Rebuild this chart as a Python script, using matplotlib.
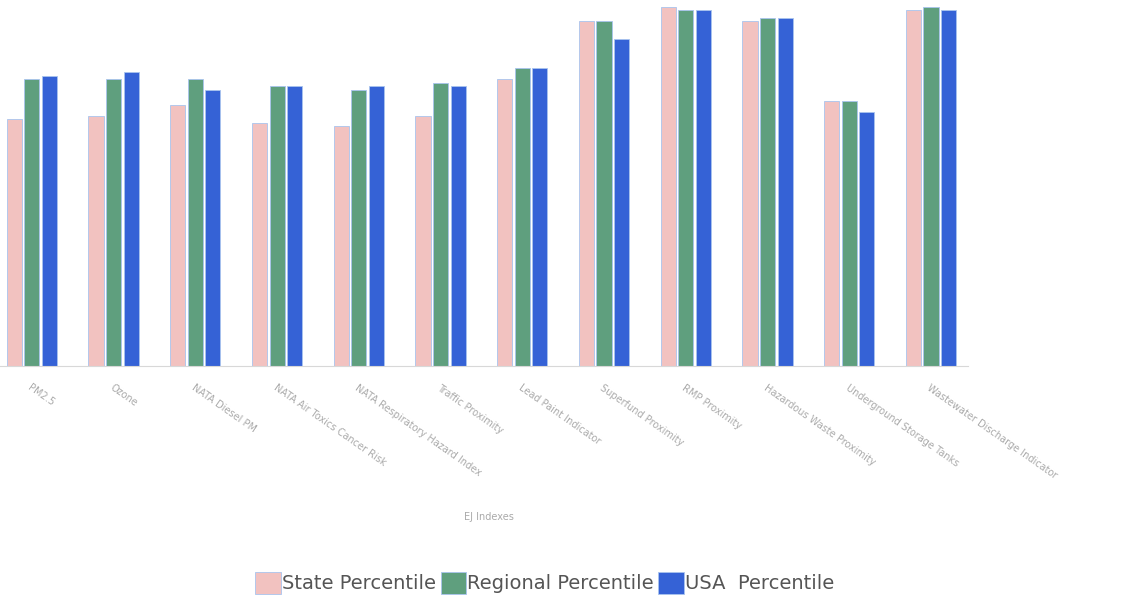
import numpy as np
import matplotlib
matplotlib.use('Agg')
import matplotlib.pyplot as plt

categories = ['PM2.5', 'Ozone', 'NATA Diesel PM', 'NATA Air Toxics Cancer Risk',
              'NATA Respiratory Hazard Index', 'Traffic Proximity',
              'Lead Paint Indicator', 'Superfund Proximity', 'RMP Proximity',
              'Hazardous Waste Proximity', 'Underground Storage Tanks',
              'Wastewater Discharge Indicator']

state_pct = [68, 69, 72, 67, 66, 69, 79, 95, 99, 95, 73, 98]
regional_pct = [79, 79, 79, 77, 76, 78, 82, 95, 98, 96, 73, 99]
usa_pct = [80, 81, 76, 77, 77, 77, 82, 90, 98, 96, 70, 98]

series = ['State Percentile', 'Regional Percentile', 'USA  Percentile']
colors = ['#f2c2c0', '#5f9f7e', '#3562d6']

fig = plt.figure(figsize=(11.37, 6.01), dpi=100)
ax = fig.add_axes([0.0, 0.391, 1.0, 0.604])

x = np.arange(len(categories))
w = 0.185
step = 0.215
for k, (vals, lab, col) in enumerate(zip([state_pct, regional_pct, usa_pct], series, colors)):
    ax.bar(x + (k - 1) * step, vals, width=w, color=col, label=lab,
           edgecolor='#a9c4ee', linewidth=0.6)

ax.set_xlim(-0.39, 13.52)
ax.set_ylim(0, 100)
ax.set_yticks([])
ax.set_xticks(x)
ax.set_xticklabels(categories, rotation=-35, ha='left', va='top',
                   rotation_mode='anchor', fontsize=7, color='#aaaaaa')
ax.tick_params(axis='x', length=0, pad=12)
for s in ['left', 'right', 'top']:
    ax.spines[s].set_visible(False)
ax.spines['bottom'].set_color('#d8d8d8')
ax.spines['bottom'].set_bounds(-0.45, 11.45)

fig.text(0.43, 0.135, 'EJ Indexes', fontsize=7, color='#aaaaaa', ha='center')

fig.legend(loc='center', bbox_to_anchor=(0.479, 0.03), ncol=3, frameon=False,
           fontsize=14, handlelength=1.3, handleheight=1.3, handletextpad=0.05,
           columnspacing=0.25, labelcolor='#555555')

fig.savefig('out.png', dpi=100)
